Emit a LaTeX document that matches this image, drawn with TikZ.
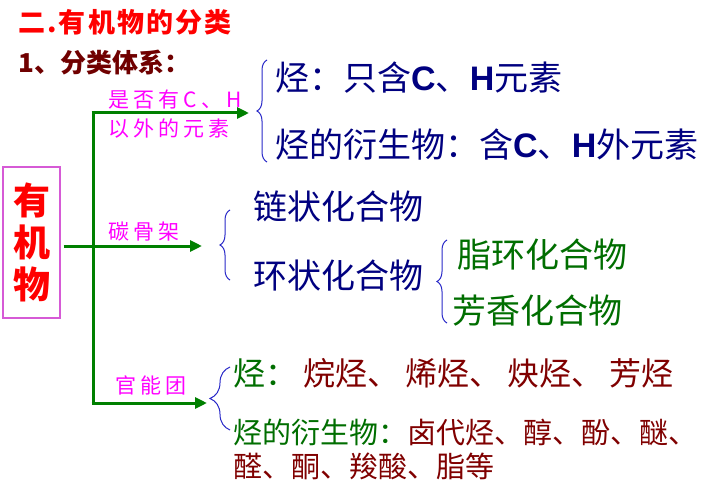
\documentclass[tikz,border=0pt]{standalone}
\usepackage{fontspec}
\setmainfont{Noto Sans CJK SC}
\newfontfamily\cjk{Noto Sans CJK SC}
\newfontfamily\labfont[LetterSpace=20]{Noto Sans CJK SC}
\newfontfamily\titlefont[LetterSpace=8]{Noto Sans CJK SC}
\newfontfamily\latb{Liberation Sans}
\usetikzlibrary{arrows.meta,decorations.pathreplacing}
\definecolor{titlered}{RGB}{255,0,0}
\definecolor{subred}{RGB}{112,0,0}
\definecolor{boxpink}{RGB}{214,90,214}
\definecolor{linegreen}{RGB}{0,128,0}
\definecolor{labmag}{RGB}{255,0,255}
\definecolor{braceblue}{RGB}{40,40,200}
\definecolor{navytext}{RGB}{0,0,128}
\definecolor{dgreen}{RGB}{0,110,0}
\definecolor{maroontext}{RGB}{128,0,0}
\newcommand{\CH}[1]{{\latb\bfseries #1}}
\tikzset{
  txt/.style={inner sep=0pt, anchor=west},
  big/.style={txt, font=\cjk\fontsize{34}{40}\selectfont},
  lab/.style={txt, text=labmag, font=\labfont\fontsize{21}{25}\selectfont},
  gline/.style={draw=linegreen, line width=3pt},
  garrow/.style={gline, -{Triangle[length=12pt,width=11pt]}},
  brc/.style={draw=braceblue, line width=1pt, decorate},
}
\begin{document}
\begin{tikzpicture}[x=1pt,y=-1pt]
\fill[white] (0,0) rectangle (705,487);
\useasboundingbox (0,0) rectangle (705,487);

% headings
\node[txt, text=titlered, font=\titlefont\bfseries\fontsize{27}{31}\selectfont] (title) at (18,22) {二.有机物的分类};
\node[txt, text=subred, font=\cjk\bfseries\fontsize{26}{30}\selectfont] (sub) at (18,63) {1、分类体系：};

% root box
\node[draw=boxpink, line width=1.2pt, minimum width=57pt, minimum height=151pt, inner sep=0pt,
      text=titlered, align=center, font=\cjk\bfseries\fontsize{37}{42}\selectfont] (root) at (31.5,242.5) {有\\机\\物};

% junctions and arrow ends
\coordinate (jtop) at (93,113);
\coordinate (jmid) at (93,246);
\coordinate (jbot) at (93,403);
\coordinate (a1) at (249,113);
\coordinate (a2) at (202,246);
\coordinate (a3) at (207,403);

\draw[gline] ([yshift=-1.5pt]jtop) -- ([yshift=1.5pt]jbot);
\draw[garrow] ([xshift=-1.5pt]jtop) -- (a1);
\draw[garrow, shorten <=3pt] (root.east |- jmid) -- (a2);
\draw[garrow] ([xshift=-1.5pt]jbot) -- (a3);

% branch labels
\node[lab] (l1) at (108,100) {是否有C、H};
\node[lab] (l2) at (108,129) {以外的元素};
\node[lab] (l3) at (108,232) {碳骨架};
\node[lab] (l4) at (115,385) {官能团};

% braces
\coordinate (b1s) at (267,162); \coordinate (b1e) at (267,60);
\coordinate (b2s) at (230,280); \coordinate (b2e) at (230,210);
\coordinate (b3s) at (447,323); \coordinate (b3e) at (447,240);
\coordinate (b4s) at (230,430); \coordinate (b4e) at (230,367);
\draw[brc, decoration={brace, amplitude=10pt}] (b1s) -- (b1e);
\draw[brc, decoration={brace, amplitude=10pt}] (b2s) -- (b2e);
\draw[brc, decoration={brace, amplitude=10pt}] (b3s) -- (b3e);
\draw[brc, decoration={brace, amplitude=20pt}] (b4s) -- (b4e);

% first group
\node[big, text=navytext] (t1) at (275,78) {烃：只含\CH{C}、\CH{H}元素};
\node[big, text=navytext] (t2) at (275,145) {烃的衍生物：含\CH{C}、\CH{H}外元素};

% second group
\node[big, text=navytext] (chain) at (253,207) {链状化合物};
\node[big, text=navytext] (ring) at (253,276) {环状化合物};
\node[big, text=dgreen] (ali) at (457,255) {脂环化合物};
\node[big, text=dgreen] (aro) at (452,311) {芳香化合物};

% third group
\node[txt, font=\cjk\fontsize{32}{38}\selectfont] (h1) at (233,373)
  {\textcolor{dgreen}{烃：}\hspace{6pt}\textcolor{maroontext}{烷烃、\hspace{6pt}烯烃、\hspace{6pt}炔烃、\hspace{6pt}芳烃}};
\node[txt, font=\cjk\fontsize{29}{34}\selectfont] (h2) at (233,432)
  {\textcolor{dgreen}{烃的衍生物：}\textcolor{maroontext}{卤代烃、醇、酚、醚、}};
\node[txt, text=maroontext, font=\cjk\fontsize{29}{34}\selectfont] (h3) at (233,466) {醛、酮、羧酸、脂等};
\end{tikzpicture}
\end{document}
